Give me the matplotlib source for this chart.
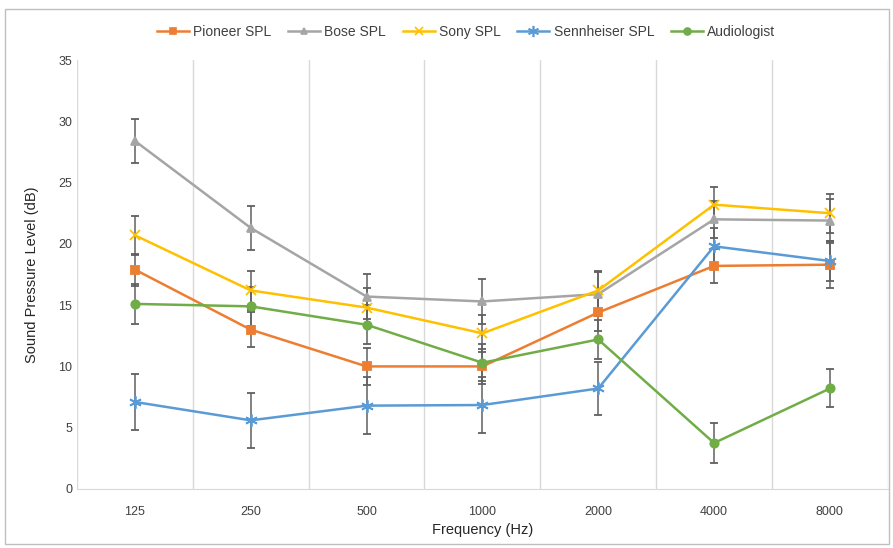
import matplotlib.pyplot as plt
import numpy as np
from matplotlib.patches import Rectangle
from matplotlib.lines import Line2D

plt.rcParams['font.family'] = ['Liberation Sans', 'DejaVu Sans']

freqs = ['125', '250', '500', '1000', '2000', '4000', '8000']

pioneer = [17.9, 13.0, 10.0, 10.0, 14.4, 18.2, 18.3]
bose = [28.4, 21.3, 15.7, 15.3, 15.9, 22.0, 21.9]
sony = [20.7, 16.2, 14.8, 12.7, 16.2, 23.2, 22.5]
sennheiser = [7.1, 5.6, 6.8, 6.85, 8.2, 19.8, 18.6]
audiologist = [15.1, 14.9, 13.4, 10.3, 12.2, 3.75, 8.2]

pioneer_err = [1.3, 1.4, 1.5, 1.4, 1.5, 1.4, 1.9]
bose_err = [1.8, 1.8, 1.8, 1.8, 1.8, 1.5, 1.8]
sony_err = [1.6, 1.6, 1.6, 1.5, 1.6, 1.4, 1.6]
sennheiser_err = [2.3, 2.25, 2.3, 2.3, 2.2, 1.5, 1.6]
audiologist_err = [1.6, 1.6, 1.6, 1.5, 1.6, 1.6, 1.55]

series = [
    ('Pioneer SPL', pioneer, pioneer_err, '#ED7D31', 's', 6),
    ('Bose SPL', bose, bose_err, '#A5A5A5', '^', 6),
    ('Sony SPL', sony, sony_err, '#FFC000', 'x', 7),
    ('Sennheiser SPL', sennheiser, sennheiser_err, '#5B9BD5', (6, 2, 0), 9),
    ('Audiologist', audiologist, audiologist_err, '#70AD47', 'o', 6),
]

fig = plt.figure(figsize=(8.93, 5.48), dpi=100)
fig.patches.append(Rectangle((0.006, 0.008), 0.99, 0.975, transform=fig.transFigure,
                             fill=False, edgecolor='#bfbfbf', linewidth=1))
ax = fig.add_axes([0.0862, 0.1077, 0.908, 0.7828])

x = np.arange(len(freqs))
handles = []
for name, vals, err, col, mk, ms in series:
    ax.errorbar(x, vals, yerr=err, color=col, marker=mk, markersize=ms, linewidth=1.8,
                markeredgewidth=1.3, ecolor='#606060', elinewidth=1.1, capsize=3,
                capthick=1.1)
    handles.append(Line2D([], [], color=col, marker=mk, markersize=ms - 1,
                          linewidth=1.8, markeredgewidth=1.2, label=name))

ax.set_xlim(-0.5, 6.5)
ax.set_ylim(0, 35)
ax.set_yticks(range(0, 36, 5))
ax.set_xticks(x)
ax.set_xticklabels(freqs)
ax.set_xticks(np.arange(-0.5, 7, 1), minor=True)
ax.grid(True, which='minor', axis='x', color='#d9d9d9', linewidth=1)
ax.tick_params(which='both', length=0, labelsize=9, colors='#404040')
ax.tick_params(axis='x', pad=12)
for s in ['top', 'right', 'left']:
    ax.spines[s].set_visible(False)
ax.spines['bottom'].set_color('#d9d9d9')

ax.set_xlabel('Frequency (Hz)', fontsize=10.5, color='#262626', labelpad=4)
ax.set_ylabel('Sound Pressure Level (dB)', fontsize=10.5, color='#262626', labelpad=14)

ax.legend(handles=handles, loc='upper center', bbox_to_anchor=(0.48, 1.11), ncol=5,
          frameon=False, fontsize=10, handlelength=2.3, columnspacing=1.2,
          handletextpad=0.3, labelcolor='#404040')

fig.savefig('out.png', dpi=100)
